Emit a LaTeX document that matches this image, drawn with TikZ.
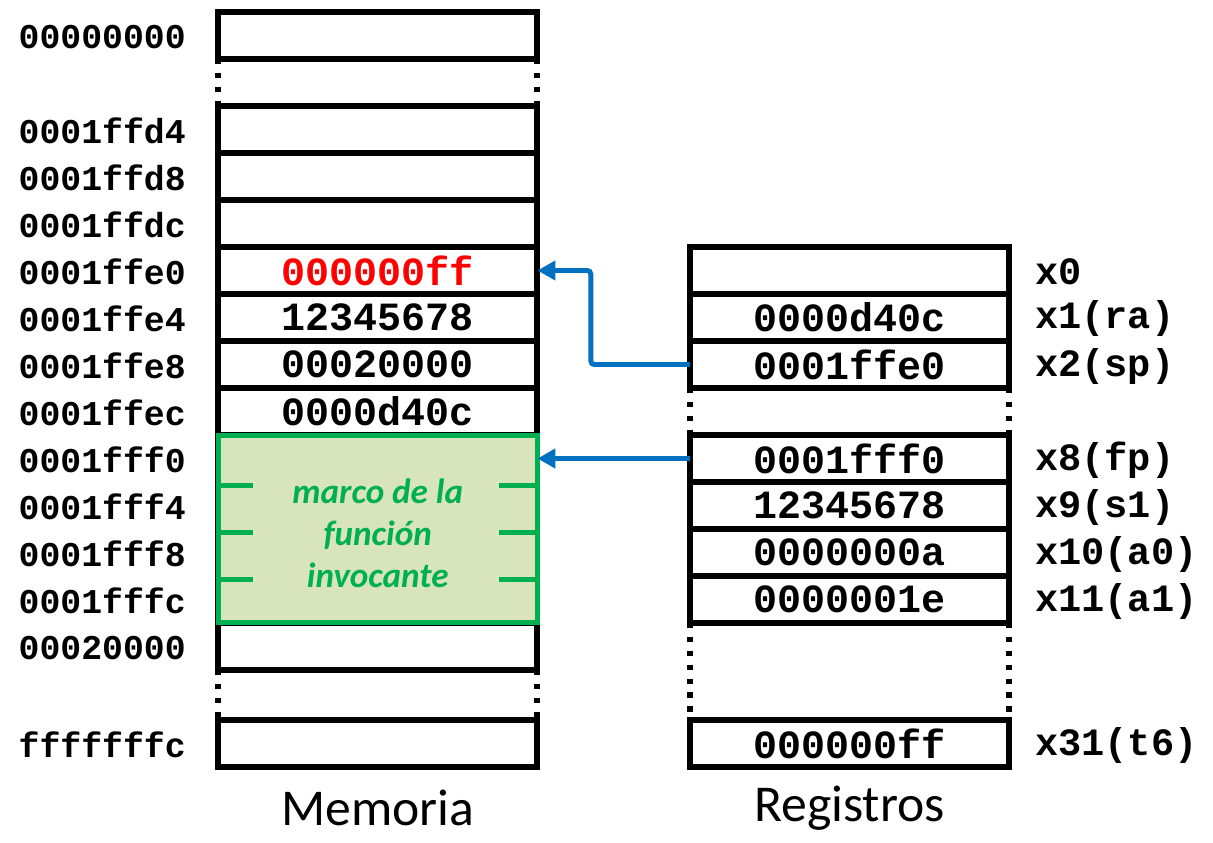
\documentclass[tikz,border=0pt]{standalone}
\usepackage{fontspec}
\setmainfont{Carlito}
\setsansfont{Carlito}
\setmonofont{Liberation Mono}
\usetikzlibrary{positioning,arrows.meta}
\definecolor{ptrblue}{HTML}{0070C0}
\definecolor{stackgreen}{HTML}{00B050}
\definecolor{stackfill}{HTML}{D8E4BC}
\tikzset{
  cell/.style={draw, line width=3.4pt, outer sep=0pt, inner sep=0pt,
    minimum width=6.39cm, minimum height=0.94cm,
    font=\fontsize{22.8}{24}\selectfont\ttfamily\bfseries},
  addr/.style={inner sep=0pt, font=\fontsize{19.8}{22}\selectfont\ttfamily\bfseries},
  regname/.style={inner sep=0pt, font=\fontsize{22}{24}\selectfont\ttfamily\bfseries},
  gapline/.style={line width=3.4pt, dash pattern=on 3.1pt off 4.8pt},
  stackframe/.style={draw=stackgreen, fill=stackfill, line width=2.85pt,
    outer sep=0pt, minimum width=6.39cm, minimum height=3.76cm},
  frametext/.style={align=center, inner sep=0pt, text=stackgreen,
    font=\fontsize{20}{23.8}\selectfont\sffamily\bfseries\itshape},
  frametick/.style={draw=stackgreen, line width=2.85pt},
  ptr/.style={draw=ptrblue, line width=2.8pt, rounded corners=2pt,
    -{Triangle[length=0.36cm,width=0.38cm]}},
  title/.style={inner sep=0pt, font=\fontsize{29.4}{32}\selectfont\sffamily}
}
\begin{document}
\begin{tikzpicture}[x=0.02cm, y=-0.02cm]
\useasboundingbox (0,0) rectangle (1213,842);
% memoria
\foreach \y/\addr/\val in {35.5/00000000/{}, 129.5/0001ffd4/{}, 176.5/0001ffd8/{},
    223.5/0001ffdc/{}, 270.5/0001ffe0/{\color{red}000000ff}, 317.5/0001ffe4/12345678,
    364.5/0001ffe8/00020000, 411.5/0001ffec/0000d40c, 458.5/0001fff0/{},
    505.5/0001fff4/{}, 552.5/0001fff8/{}, 599.5/0001fffc/{},
    646.5/00020000/{}, 743.5/fffffffc/{}}
{
  \node[cell] (m\addr) at (377.75,\y) {\val};
  \node[addr, left=0.64cm of m\addr, yshift=-0.03cm] (a\addr) {\addr};
}
\draw[gapline] (m00000000.south west) -- (m0001ffd4.north west);
\draw[gapline] (m00000000.south east) -- (m0001ffd4.north east);
\draw[gapline] (m00020000.south west) -- (mfffffffc.north west);
\draw[gapline] (m00020000.south east) -- (mfffffffc.north east);
\node[stackframe] (frame) at (377.75,529) {};
\node[frametext] (frametxt) at ([yshift=-0.09cm]frame.center) {marco de la\\función\\invocante};
\foreach \y in {485,532,579} {
  \draw[frametick] (frame.west |- 0,\y) -- ++(35,0);
  \draw[frametick] (frame.east |- 0,\y) -- ++(-38,0);
}
% registros
\foreach \y/\id/\lbl/\val in {270.5/x0/x0/{}, 317.5/x1/x1(ra)/0000d40c,
    364.5/x2/x2(sp)/0001ffe0, 458.5/x8/x8(fp)/0001fff0, 505.5/x9/x9(s1)/12345678,
    552.5/x10/x10(a0)/0000000a, 599.5/x11/x11(a1)/0000001e, 743.5/x31/x31(t6)/000000ff}
{
  \node[cell] (\id) at (849.5,\y) {\val};
  \node[regname, right=0.51cm of \id, yshift=-0.03cm] (n\id) {\lbl};
}
\draw[gapline] (x2.south west) -- (x8.north west);
\draw[gapline] (x2.south east) -- (x8.north east);
\draw[gapline] (x11.south west) -- (x31.north west);
\draw[gapline] (x11.south east) -- (x31.north east);
% punteros
\draw[ptr] (x2.west) -- ++(-99,0) |- (m0001ffe0.east);
\draw[ptr] (x8.west) -- (x8.west -| frame.east);
\node[title] (memtitle) at (377.75,808) {Memoria};
\node[title] (regtitle) at (849.5,808) {Registros};
\end{tikzpicture}
\end{document}
